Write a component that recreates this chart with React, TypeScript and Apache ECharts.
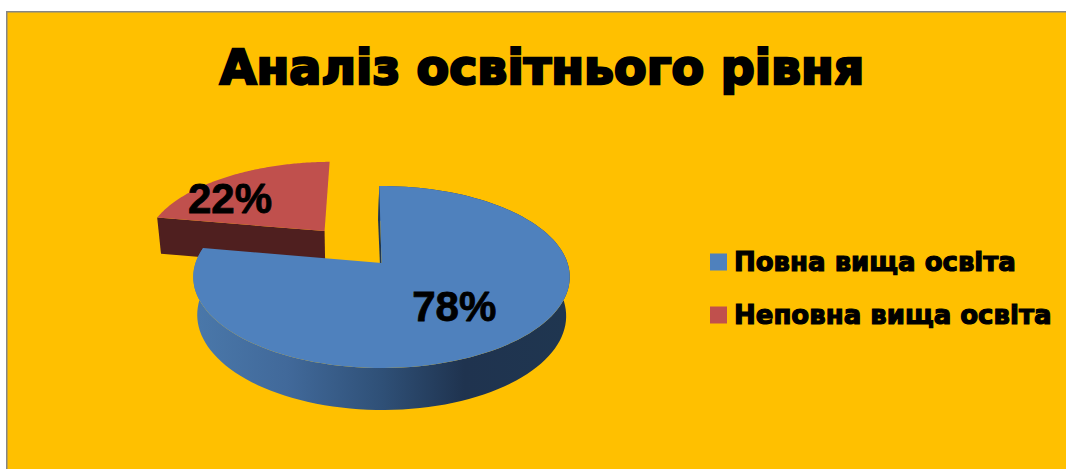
import React, { useEffect, useRef } from "react";
import * as echarts from "echarts";

const titleText = "Аналіз освітнього рівня";
const categories = ["Повна вища освіта", "Неповна вища освіта"];
const values = [78, 22];

const FACE = ["#4f81bd", "#c0504d"];
const HEAVY = '"DejaVu Sans", sans-serif';

// Perspective projection of the tilted 3D disc
const CX = 381.5, CY = 263, R = 186, A = 88.85, P = 0.1538;
const ROT = -0.8; // degrees
const EXPLODE = [0, 0.5];
const DEPTH = 36, DEPTH_GROW = 0.0395, BOTTOM_SCALE = 0.98;
const LABEL_F = 0.6;
const LABEL_SHIFT = [[-5, 0], [-34, 1]];

const total = values.reduce((a, b) => a + b, 0);
const rad = (d: number) => (d * Math.PI) / 180;

function project(u: number, v: number): number[] {
  const k = 1 + P * v;
  return [CX + (R * u) / k, CY - (A * v) / k];
}
function lower(p: number[], v: number): number[] {
  return [
    CX + (p[0] - CX) * BOTTOM_SCALE - 1.2 * v,
    p[1] + DEPTH + DEPTH_GROW * (p[1] - 216),
  ];
}

function sliceRender(index: number) {
  return (_params: any, api: any) => {
    const value = api.value(0) as number;
    let before = 0;
    for (let i = 0; i < index; i++) before += values[i];
    const a0 = ROT + (before / total) * 360;
    const a1 = a0 + (value / total) * 360;
    const mid = rad((a0 + a1) / 2);
    const ou = Math.sin(mid) * EXPLODE[index];
    const ov = Math.cos(mid) * EXPLODE[index];
    const uv: number[][] = [];
    const N = 120;
    for (let i = 0; i <= N; i++) {
      const t = rad(a0 + ((a1 - a0) * i) / N);
      uv.push([Math.sin(t) + ou, Math.cos(t) + ov]);
    }
    const top = uv.map((q) => project(q[0], q[1]));
    const bot = uv.map((q, i) => lower(top[i], q[1]));
    const apex = project(ou, ov);
    const apexB = lower(apex, ov);

    const children: any[] = [];
    const wallColor =
      index === 0
        ? new echarts.graphic.LinearGradient(0, 0, 1, 0, [
            { offset: 0, color: "#4a78aa" },
            { offset: 0.25, color: "#41699a" },
            { offset: 0.5, color: "#2f5077" },
            { offset: 0.72, color: "#1f334f" },
            { offset: 1, color: "#1f3650" },
          ])
        : "#4f1f1f";
    // the outer wall only shows below the front of the disc
    if (index === 0) {
      children.push({
        type: "polygon",
        shape: { points: top.concat(bot.slice().reverse()) },
        style: { fill: wallColor },
      });
    }
    // radial wall at the start of the slice
    children.push({
      type: "polygon",
      shape: { points: [top[0], apex, apexB, bot[0]] },
      style: { fill: index === 0 ? "#1f3650" : "#4f1f1f" },
    });
    // face
    children.push({
      type: "polygon",
      shape: { points: top.concat([apex]) },
      style: { fill: FACE[index] },
    });
    // label
    const mu = Math.sin(mid) * LABEL_F + ou;
    const mv = Math.cos(mid) * LABEL_F + ov;
    const lp = project(mu, mv);
    children.push({
      type: "text",
      style: {
        text: Math.round((value / total) * 100) + "%",
        x: lp[0] + LABEL_SHIFT[index][0],
        y: lp[1] + LABEL_SHIFT[index][1],
        align: "center",
        verticalAlign: "middle",
        fill: "#000",
        stroke: "#000",
        lineWidth: 0.8,
        font: 'bold 42px "Liberation Sans", Arial, sans-serif',
      },
    });
    return { type: "group", children };
  };
}

export default function App() {
  const ref = useRef<HTMLDivElement>(null);
  useEffect(() => {
    const chart = echarts.init(ref.current!, undefined, { renderer: "svg" });
    chart.setOption({
      animation: false,
      backgroundColor: "#ffffff",
      title: {
        text: titleText,
        left: 537,
        top: 38,
        textAlign: "center",
        textStyle: {
          fontFamily: HEAVY,
          fontWeight: "bold",
          fontSize: 47.5,
          color: "#000",
          textBorderColor: "#000",
          textBorderWidth: 2.5,
        },
      },
      legend: {
        orient: "vertical",
        left: 705,
        top: 242,
        itemWidth: 17,
        itemHeight: 17,
        itemGap: 23,
        icon: "rect",
        selectedMode: false,
        data: categories,
        textStyle: {
          fontFamily: HEAVY,
          fontWeight: "bold",
          fontSize: 26,
          lineHeight: 30,
          color: "#000",
          textBorderColor: "#000",
          textBorderWidth: 1.2,
          padding: [0, 0, 0, 2],
        },
      },
      graphic: [
        {
          type: "rect",
          z: -1,
          shape: { x: 6.75, y: 11.75, width: 1070, height: 470 },
          style: { fill: "#ffc000", stroke: "#868686", lineWidth: 1.5 },
        },
      ],
      series: categories.map((name, i) => ({
        type: "custom",
        name,
        coordinateSystem: "none",
        z: 10 - i,
        itemStyle: { color: FACE[i] },
        data: [[values[i]]],
        renderItem: sliceRender(i),
      })),
    });
    return () => chart.dispose();
  }, []);
  return (
    <div
      ref={ref}
      style={{ position: "absolute", left: 0, top: 0, width: 1066, height: 469 }}
    />
  );
}
